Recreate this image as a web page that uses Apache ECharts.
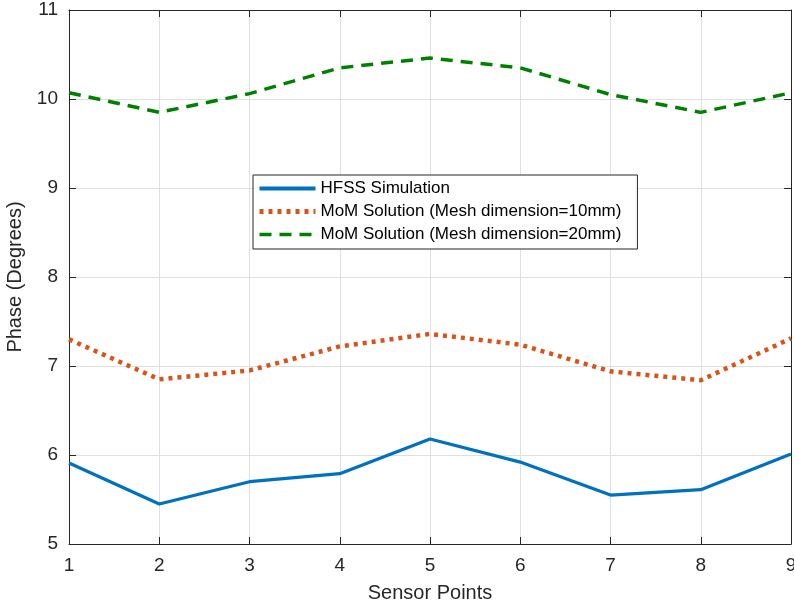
<!DOCTYPE html>
<html>
<head>
<meta charset="utf-8">
<script src="https://cdn.jsdelivr.net/npm/echarts@6/dist/echarts.min.js"></script>
<style>
  html, body { margin: 0; padding: 0; background: #fff; }
  #chart { width: 794px; height: 608px; }
</style>
</head>
<body>
<div id="chart"></div>
<script>
// Sensor positions along the x axis
const sensorPoints = [1, 2, 3, 4, 5, 6, 7, 8, 9];

// Phase (degrees) at each sensor
const hfssSimulation = [5.91, 5.45, 5.70, 5.79, 6.18, 5.92, 5.55, 5.61, 6.01];
const momMesh10mm   = [7.30, 6.85, 6.95, 7.22, 7.36, 7.24, 6.94, 6.84, 7.31];
const momMesh20mm   = [10.07, 9.85, 10.06, 10.35, 10.46, 10.35, 10.05, 9.85, 10.07];

const seriesNames = [
  'HFSS Simulation',
  'MoM Solution (Mesh dimension=10mm)',
  'MoM Solution (Mesh dimension=20mm)'
];

const font = 'Liberation Sans, Arial, sans-serif';
const axisColor = '#262626';

function pairs(ys) { return sensorPoints.map((x, i) => [x, ys[i]]); }

const chart = echarts.init(document.getElementById('chart'), null, { renderer: 'canvas' });

const baseAxis = {
  axisLine: { show: true, onZero: false, lineStyle: { color: axisColor, width: 1 } },
  axisTick: { show: true, inside: true, length: 7, lineStyle: { color: axisColor } },
  splitLine: { show: true, lineStyle: { color: '#dfdfdf', width: 1 } },
  axisLabel: { color: axisColor, fontFamily: font, fontSize: 19 }
};

chart.setOption({
  animation: false,
  backgroundColor: '#fff',
  grid: { left: 69, right: 3, top: 10, bottom: 64, containLabel: false, outerBoundsMode: 'none' },
  legend: {
    orient: 'vertical',
    left: 253,
    top: 175,
    data: [
      { name: seriesNames[0], lineStyle: { width: 4 } },
      { name: seriesNames[1], lineStyle: { width: 5 } },
      { name: seriesNames[2], lineStyle: { width: 3.5 } }
    ],
    backgroundColor: '#fff',
    borderColor: '#262626',
    borderWidth: 1,
    borderRadius: 0,
    padding: [5, 16, 6, 4],
    itemGap: 6,
    itemWidth: 56,
    itemHeight: 17,
    itemStyle: { opacity: 0, borderWidth: 0 },
    textStyle: { color: '#000', fontFamily: font, fontSize: 17 },
    selectedMode: false
  },
  xAxis: [
    Object.assign({}, baseAxis, {
      type: 'value', min: 1, max: 9, interval: 1, position: 'bottom',
      axisLabel: Object.assign({}, baseAxis.axisLabel, { margin: 12 }),
      name: 'Sensor Points', nameLocation: 'middle', nameGap: 39,
      nameTextStyle: { color: axisColor, fontFamily: font, fontSize: 20 }
    }),
    Object.assign({}, baseAxis, {
      type: 'value', min: 1, max: 9, interval: 1, position: 'top',
      axisLabel: { show: false }, splitLine: { show: false }
    })
  ],
  yAxis: [
    Object.assign({}, baseAxis, {
      type: 'value', min: 5, max: 11, interval: 1, position: 'left',
      axisLabel: Object.assign({}, baseAxis.axisLabel, { margin: 11 }),
      name: 'Phase (Degrees)', nameLocation: 'middle', nameGap: 34,
      nameTextStyle: { color: axisColor, fontFamily: font, fontSize: 20 }
    }),
    Object.assign({}, baseAxis, {
      type: 'value', min: 5, max: 11, interval: 1, position: 'right',
      axisLabel: { show: false }, splitLine: { show: false }
    })
  ],
  series: [
    {
      name: seriesNames[0], type: 'line', data: pairs(hfssSimulation),
      symbol: 'none', color: '#0072BD',
      lineStyle: { color: '#0072BD', width: 3.2, type: 'solid' }, z: 5
    },
    {
      name: seriesNames[1], type: 'line', data: pairs(momMesh10mm),
      symbol: 'none', color: '#D95319',
      lineStyle: { color: '#D95319', width: 4.5, type: [4, 5] }, z: 4
    },
    {
      name: seriesNames[2], type: 'line', data: pairs(momMesh20mm),
      symbol: 'none', color: '#008000',
      lineStyle: { color: '#008000', width: 3.5, type: [12, 8] }, z: 3
    }
  ]
});
</script>
</body>
</html>
